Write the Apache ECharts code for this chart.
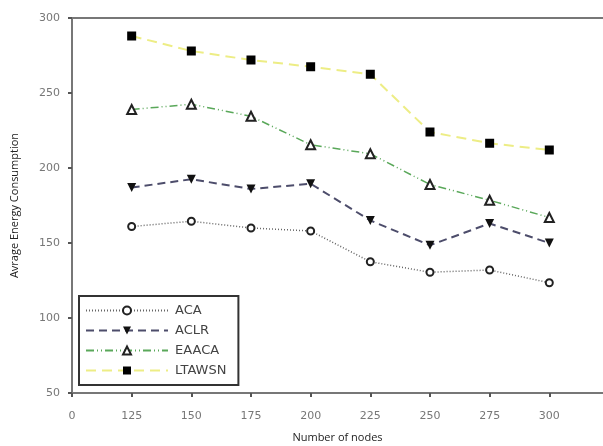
<!DOCTYPE html>
<html>
<head>
<meta charset="UTF-8">
<title>Avrage Energy Consumption</title>
<script src="https://cdn.jsdelivr.net/npm/echarts@6/dist/echarts.min.js"></script>
<style>
  html, body { margin: 0; padding: 0; background: #fff; }
  #main { width: 603px; height: 446px; }
</style>
</head>
<body>
<div id="main"></div>
<script type="text/javascript">
// tick labels of the x axis, the first one is the origin
var xLabels = ['0', '125', '150', '175', '200', '225', '250', '275', '300'];
var seriesNames = ['ACA', 'ACLR', 'EAACA', 'LTAWSN'];

// values, one per node count 125..300
var aca    = [161, 164.5, 160, 158, 137.5, 130.5, 132, 123.5];
var aclr   = [187, 192.5, 186, 189.5, 165, 148.5, 163, 150];
var eaaca  = [239, 242.5, 234.5, 215.5, 209.5, 189, 178.5, 167];
var ltawsn = [288, 278, 272, 267.5, 262.5, 224, 216.5, 212];

// the x axis is evenly spaced: place each value at its label slot (1..8)
function toPoints(arr) {
  var out = [];
  for (var i = 0; i < arr.length; i++) {
    out.push([i + 1, arr[i]]);
  }
  return out;
}

var myChart = echarts.init(document.getElementById('main'));

var option = {
  backgroundColor: '#fff',
  animation: false,
  grid: {
    left: 72,
    top: 18,
    right: 0,
    height: 375,
    outerBoundsMode: 'none',
    containLabel: false,
    show: false
  },
  legend: {
    orient: 'vertical',
    left: 79,
    top: 296,
    width: 161,
    padding: [8, 12, 8, 6],
    itemWidth: 82,
    itemHeight: 10,
    itemGap: 7,
    borderColor: '#333',
    borderWidth: 2,
    data: seriesNames,
    textStyle: {
      fontFamily: 'DejaVu Sans',
      fontSize: 13,
      color: '#444',
      padding: [0, 0, 0, 2]
    }
  },
  xAxis: [
    {
      type: 'value',
      min: 0,
      max: 8.9,
      interval: 1,
      name: 'Number of nodes',
      nameLocation: 'middle',
      nameGap: 39,
      nameTextStyle: { fontFamily: 'Open Sans', fontSize: 11, color: '#222' },
      axisLine: { lineStyle: { color: '#777', width: 2 } },
      axisTick: { show: true, length: 4, lineStyle: { color: '#555', width: 2 } },
      axisLabel: {
        margin: 18,
        fontFamily: 'DejaVu Sans',
        fontSize: 11,
        color: '#777',
        showMaxLabel: false,
        formatter: function (v) {
          return xLabels[Math.round(v)] || '';
        }
      },
      splitLine: { show: false }
    },
    {
      // top frame line only
      type: 'value',
      position: 'top',
      min: 0,
      max: 8.9,
      axisLine: { show: true, lineStyle: { color: '#777', width: 2 } },
      axisTick: { show: false },
      axisLabel: { show: false },
      splitLine: { show: false }
    }
  ],
  yAxis: {
    type: 'value',
    min: 50,
    max: 300,
    interval: 50,
    name: 'Avrage Energy Consumption',
    nameLocation: 'middle',
    nameGap: 52,
    nameTextStyle: { fontFamily: 'Open Sans', fontSize: 11, color: '#222' },
    axisLine: { show: true, lineStyle: { color: '#777', width: 2 } },
    axisTick: { show: true, length: 4, lineStyle: { color: '#555', width: 2 } },
    axisLabel: {
      margin: 12,
      fontFamily: 'DejaVu Sans',
      fontSize: 11,
      color: '#777'
    },
    splitLine: { show: false }
  },
  series: [
    {
      name: 'ACA',
      type: 'line',
      data: toPoints(aca),
      symbol: 'emptyCircle',
      symbolSize: 7,
      itemStyle: { color: '#222', borderWidth: 1.5 },
      lineStyle: { color: '#666', width: 1.5, type: [1, 2] }
    },
    {
      name: 'ACLR',
      type: 'line',
      data: toPoints(aclr),
      symbol: 'triangle',
      symbolRotate: 180,
      symbolSize: 9,
      itemStyle: { color: '#111' },
      lineStyle: { color: '#4d4d6b', width: 2, type: [8, 5] }
    },
    {
      name: 'EAACA',
      type: 'line',
      data: toPoints(eaaca),
      symbol: 'emptyTriangle',
      symbolSize: 9,
      itemStyle: { color: '#222', borderWidth: 1.5 },
      lineStyle: { color: '#5aa85a', width: 1.5, type: [8, 3, 1, 3, 1, 3] }
    },
    {
      name: 'LTAWSN',
      type: 'line',
      data: toPoints(ltawsn),
      symbol: 'rect',
      symbolSize: 9,
      itemStyle: { color: '#000' },
      lineStyle: { color: '#eded85', width: 2, type: [10, 6] }
    }
  ]
};

myChart.setOption(option);
</script>
</body>
</html>
